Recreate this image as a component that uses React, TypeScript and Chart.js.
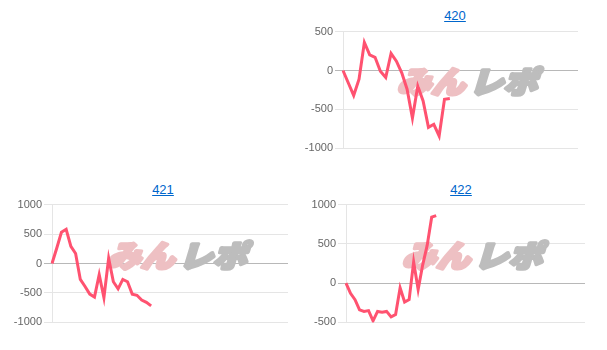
import React, { useEffect, useRef } from "react";
import { Chart, registerables } from "chart.js";

Chart.register(...registerables);

// ---- data ----
const labels420 = Array.from({ length: 45 }, (_, i) => String(i + 1));
const values420 = [0, -160, -320, -110, 360, 200, 170, -10, -90, 220, 120, -30, -240, -610, -200, -390, -730, -690, -840, -370, -360];
const yTicks420 = [-1000, -500, 0, 500];

const labels421 = Array.from({ length: 51 }, (_, i) => String(i + 1));
const values421 = [0, 260, 530, 580, 290, 170, -270, -390, -520, -570, -190, -580, 90, -310, -430, -270, -310, -520, -540, -620, -660, -720];
const yTicks421 = [-1000, -500, 0, 500, 1000];

const labels422 = Array.from({ length: 54 }, (_, i) => String(i + 1));
const values422 = [0, -130, -210, -340, -360, -350, -480, -360, -370, -360, -430, -400, -60, -240, -210, 270, -80, 230, 480, 840, 860];
const yTicks422 = [-500, 0, 500, 1000];

const titles = ["420", "421", "422"];

const LINE_COLOR = "rgb(255, 82, 112)";

const watermarkPlugin = {
  id: "watermark",
  beforeDatasetsDraw(chart: any) {
    const { ctx, chartArea } = chart;
    const cx = (chartArea.left + chartArea.right) / 2 + 10;
    const cy = (chartArea.top + chartArea.bottom) / 2 - 8;
    ctx.save();
    ctx.font = '900 30px "Noto Sans CJK JP"';
    ctx.textBaseline = "middle";
    const w1 = ctx.measureText("みん").width;
    const w2 = ctx.measureText("レポ").width;
    const gap = 4;
    const total = w1 + w2 + gap;
    const targetW = 140;
    ctx.translate(cx - targetW / 2, cy);
    ctx.transform(1, 0, -0.3, 1, 0, 0);
    ctx.scale(targetW / total, 1);
    ctx.lineJoin = "round";
    ctx.lineWidth = 3.5;
    ctx.fillStyle = "#eec0c3";
    ctx.strokeStyle = "#eec0c3";
    ctx.strokeText("みん", 0, 0);
    ctx.fillText("みん", 0, 0);
    ctx.fillStyle = "#bdbdbd";
    ctx.strokeStyle = "#bdbdbd";
    ctx.strokeText("レポ", w1 + gap, 0);
    ctx.fillText("レポ", w1 + gap, 0);
    ctx.restore();
  },
};

type CellProps = {
  labels: string[];
  values: number[];
  yTicks: number[];
  box: { left: number; top: number; width: number; height: number };
  title: string;
  titleX: number;
  titleY: number;
};

function ChartCell({ labels, values, yTicks, box, title, titleX, titleY }: CellProps) {
  const ref = useRef<HTMLCanvasElement | null>(null);
  useEffect(() => {
    if (!ref.current) return;
    const min = Math.min(...yTicks);
    const max = Math.max(...yTicks);
    const step = yTicks[1] - yTicks[0];
    const chart = new Chart(ref.current, {
      type: "line",
      data: {
        labels,
        datasets: [
          {
            data: values,
            borderColor: LINE_COLOR,
            backgroundColor: LINE_COLOR,
            borderWidth: 3,
            pointRadius: 0,
            tension: 0,
            fill: false,
          },
        ],
      },
      options: {
        animation: false,
        responsive: true,
        maintainAspectRatio: false,
        layout: { padding: { left: 0, right: 10, top: 8, bottom: 8 } },
        plugins: {
          legend: { display: false },
          tooltip: { enabled: false },
          title: { display: false },
        },
        scales: {
          x: { display: false },
          y: {
            min,
            max,
            ticks: {
              stepSize: step,
              color: "#666",
              padding: 2,
              font: { size: 11, family: "'Liberation Sans', Arial, sans-serif" },
              callback: (v: any) => String(v),
            },
            grid: {
              color: (c: any) => (c.tick && c.tick.value === 0 ? "rgba(0,0,0,0.28)" : "rgba(0,0,0,0.1)"),
              tickLength: 8,
            },
            border: { display: true, color: "rgba(0,0,0,0.1)" },
            afterFit: (s: any) => {
              s.width = 40;
            },
          },
        },
      },
      plugins: [watermarkPlugin],
    } as any);
    return () => chart.destroy();
  }, []);

  return (
    <>
      <div
        style={{
          position: "absolute",
          left: titleX - 50,
          top: titleY,
          width: 100,
          textAlign: "center",
          fontFamily: "'Liberation Sans', Arial, sans-serif",
          fontSize: 13,
          lineHeight: "15px",
        }}
      >
        <a href="#" style={{ color: "#0066cc", textDecoration: "underline" }}>
          {title}
        </a>
      </div>
      <div
        style={{
          position: "absolute",
          left: box.left,
          top: box.top,
          width: box.width,
          height: box.height,
        }}
      >
        <canvas ref={ref} />
      </div>
    </>
  );
}

export default function App() {
  return (
    <div style={{ position: "relative", width: 591, height: 334 }}>
      <ChartCell
        labels={labels420}
        values={values420}
        yTicks={yTicks420}
        box={{ left: 295, top: 15, width: 285, height: 134 }}
        title={titles[0]}
        titleX={447}
        titleY={-0.5}
      />
      <ChartCell
        labels={labels421}
        values={values421}
        yTicks={yTicks421}
        box={{ left: 4, top: 188, width: 286, height: 135 }}
        title={titles[1]}
        titleX={155}
        titleY={174}
      />
      <ChartCell
        labels={labels422}
        values={values422}
        yTicks={yTicks422}
        box={{ left: 298, top: 188, width: 289, height: 135 }}
        title={titles[2]}
        titleX={453}
        titleY={174}
      />
    </div>
  );
}
